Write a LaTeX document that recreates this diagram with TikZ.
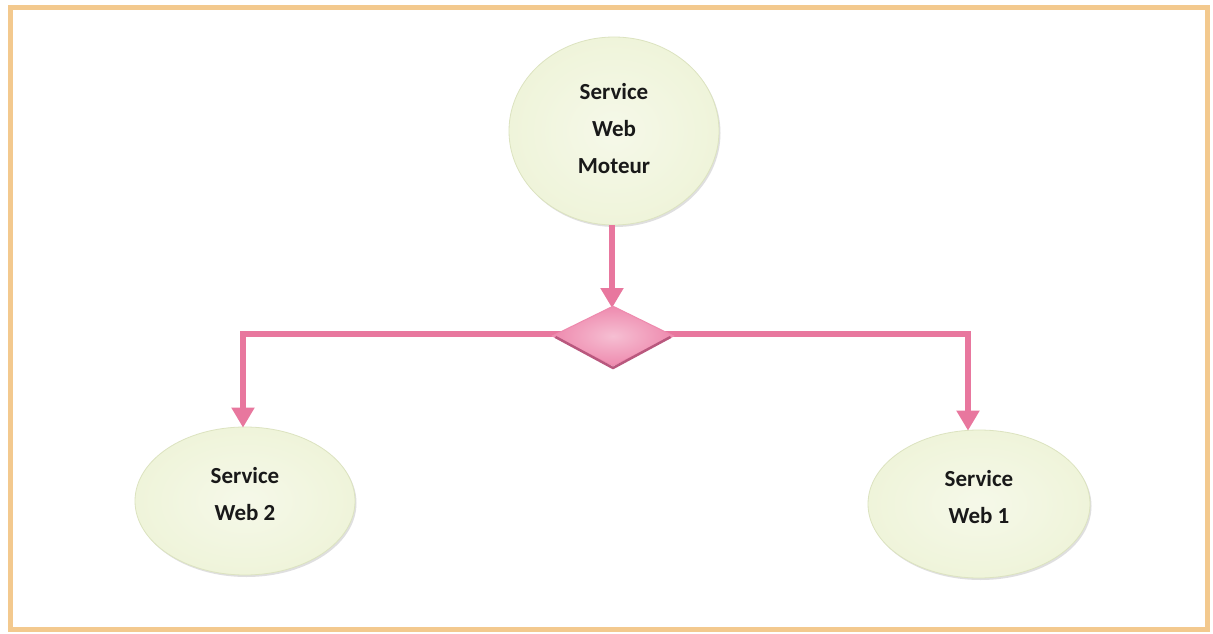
\documentclass[tikz,border=0pt]{standalone}
\usepackage{fontspec}
\setmainfont{Carlito}
\usetikzlibrary{shapes.geometric,arrows.meta,shadows}
\definecolor{frame}{HTML}{F3C98E}
\definecolor{link}{HTML}{E8779E}
\definecolor{bubble}{HTML}{EFF4DA}
\definecolor{bubbleedge}{HTML}{DCE3C0}
\definecolor{gem}{HTML}{EE8AAE}
\definecolor{gemdark}{HTML}{B9587E}
\tikzset{
  svc/.style={ellipse, draw=bubbleedge, line width=0.8pt,
    inner color=white!40!bubble, outer color=bubble,
    minimum width=#1, align=center,
    drop shadow={shadow xshift=1.5pt, shadow yshift=-2pt, opacity=0.25}},
  svctext/.style={font=\bfseries\fontsize{23}{37}\selectfont,
    align=center, text=black!90},
  flow/.style={draw=link, line width=6pt, line join=miter},
  arrowed/.style={flow, -{Triangle[width=22pt,length=20pt]}, shorten >=-1pt},
  junction/.style={diamond, aspect=2, minimum width=122pt, minimum height=60pt,
    inner sep=0pt, inner color=gem!55!white, outer color=gem,
    draw=gem, line width=1pt},
  gemrim/.style={draw=gemdark, line width=2.5pt, line join=round}
}
\begin{document}
\begin{tikzpicture}[x=1pt,y=-1pt]
  \useasboundingbox (0,0) rectangle (1213,634);
  \fill[white] (0,0) rectangle (1213,634);
  \draw[frame, line width=5pt] (10,8) rectangle (1207,629);

  % service bubbles
  \node[svc=210pt, minimum height=188pt] (eng) at (614,131) {};
  \node[svc=220pt, minimum height=148pt] (w2) at (245,501) {};
  \node[svc=222pt, minimum height=148pt] (w1) at (979,504) {};
  \node[svctext] (engt) at (614,129) {Service\\Web\\Moteur};
  \node[svctext] (w2t) at (245,494) {Service\\Web 2};
  \node[svctext] (w1t) at (979,497) {Service\\Web 1};

  % branching connectors
  \coordinate (mid) at (612,334);
  \coordinate (l) at (243,334);
  \coordinate (r) at (968,334);
  \coordinate (top) at (612,307);

  \draw[arrowed] (top |- eng.south) -- (top);
  \draw[arrowed] (mid) -- (l) -- (w2.north -| l);
  \draw[arrowed] (mid) -- (r) -- (w1.north -| r);
  \node[junction] (sw) at (613,336) {};
  % shaded lower rim of the decision diamond
  \draw[gemrim] ([shift={(4pt,-1pt)}]sw.west) -- ([yshift=-1.5pt]sw.south)
    -- ([shift={(-4pt,-1pt)}]sw.east);
\end{tikzpicture}
\end{document}
